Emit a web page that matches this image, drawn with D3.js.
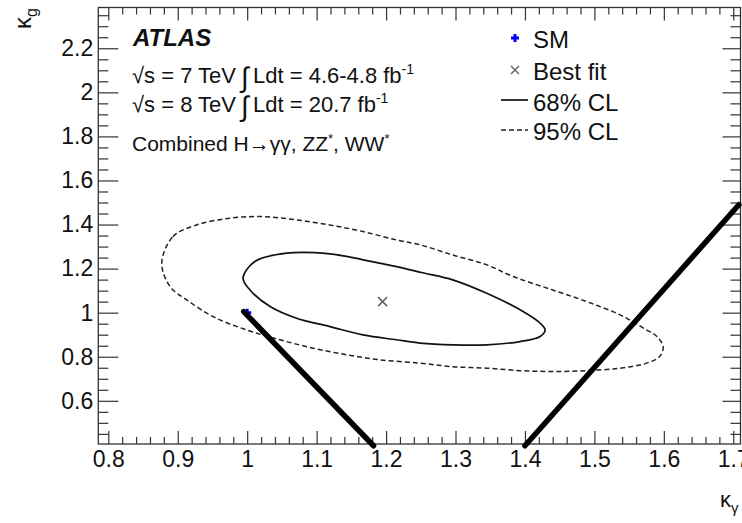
<!DOCTYPE html>
<meta charset="utf-8">
<head>
  <title>kappa_gamma vs kappa_g</title>
</head>
<style>
  html, body {
    margin: 0;
    padding: 0;
    background: #fff;
    overflow: hidden;
  }
  svg text {
    font-family: "Liberation Sans", Arial, Helvetica, sans-serif;
    fill: #111;
  }
</style>
<body>
<script src="https://d3js.org/d3.v7.min.js"></script>
<script>
// tick labels
var xMajor = [0.8, 0.9, 1.0, 1.1, 1.2, 1.3, 1.4, 1.5, 1.6, 1.7];
var yMajor = [0.6, 0.8, 1.0, 1.2, 1.4, 1.6, 1.8, 2.0, 2.2];

// 68% CL contour (kappa_gamma, kappa_g)
var cl68Kgamma = [0.994, 1.011, 1.057, 1.119, 1.167, 1.215, 1.253, 1.296, 1.345, 1.393, 1.422, 1.429,
                  1.422, 1.393, 1.345, 1.296, 1.249, 1.215, 1.167, 1.119, 1.071, 1.033, 1.004];
var cl68Kg     = [1.157, 1.232, 1.270, 1.267, 1.240, 1.209, 1.181, 1.149, 1.088, 1.013, 0.952, 0.922,
                  0.892, 0.869, 0.854, 0.854, 0.862, 0.877, 0.899, 0.937, 0.975, 1.028, 1.103];

// 95% CL contour
var cl95Kgamma = [0.877, 0.893, 0.927, 0.975, 1.023, 1.071, 1.119, 1.167, 1.215, 1.249, 1.296, 1.345,
                  1.383, 1.440, 1.489, 1.537, 1.575, 1.590, 1.599, 1.594, 1.575, 1.537, 1.489, 1.440,
                  1.393, 1.345, 1.296, 1.249, 1.191, 1.143, 1.095, 1.047, 0.999, 0.951, 0.913, 0.889];
var cl95Kg     = [1.225, 1.345, 1.398, 1.429, 1.436, 1.421, 1.398, 1.368, 1.330, 1.308, 1.262, 1.217,
                  1.164, 1.103, 1.050, 0.990, 0.922, 0.892, 0.846, 0.801, 0.771, 0.748, 0.737, 0.733,
                  0.737, 0.748, 0.755, 0.771, 0.786, 0.809, 0.839, 0.877, 0.922, 0.982, 1.058, 1.118];

var smPoint = [1.0, 1.0];
var bestFit = [1.195, 1.05];

// the two thick straight lines
var lineLeftKgamma  = [0.995, 1.182];
var lineLeftKg      = [1.005, 0.396];
var lineRightKgamma = [1.400, 1.708];
var lineRightKg     = [0.396, 1.490];

var W = 742, H = 523;
var svg = d3.select('body').append('svg')
  .attr('width', W).attr('height', H);

var x = d3.scaleLinear().domain([0.7856, 1.7104]).range([98.3, 740.5]);
var y = d3.scaleLinear().domain([0.404, 2.385]).range([444, 7.5]);

function fmt(d) { return String(+d.toFixed(1)); }

var xMinor = d3.range(0.80, 1.711, 0.02).filter(function(v) {
  return Math.abs(v * 10 - Math.round(v * 10)) > 0.01;
});
var yMinor = d3.range(0.45, 2.38, 0.05).filter(function(v) {
  return Math.abs(v * 5 - Math.round(v * 5)) > 0.01;
});

function styleAxis(g, size) {
  g.select('.domain').remove();
  g.attr('font-size', size || 23)
   .attr('font-family', '"Liberation Sans", Arial, Helvetica, sans-serif')
   .style('color', '#222');
  g.selectAll('line').attr('stroke', '#333').attr('stroke-width', 1.2);
}

// bottom axis
svg.append('g').attr('transform', 'translate(0,444)')
  .call(d3.axisBottom(x).tickValues(xMajor).tickSize(-13).tickPadding(7).tickFormat(fmt))
  .call(styleAxis);
svg.append('g').attr('transform', 'translate(0,444)')
  .call(d3.axisBottom(x).tickValues(xMinor).tickSize(-7).tickFormat(''))
  .call(styleAxis);
// top axis
svg.append('g').attr('transform', 'translate(0,7.5)')
  .call(d3.axisTop(x).tickValues(xMajor).tickSize(-13).tickFormat(''))
  .call(styleAxis);
svg.append('g').attr('transform', 'translate(0,7.5)')
  .call(d3.axisTop(x).tickValues(xMinor).tickSize(-7).tickFormat(''))
  .call(styleAxis);
// left axis
svg.append('g').attr('transform', 'translate(98.3,0)')
  .call(d3.axisLeft(y).tickValues(yMajor).tickSize(-20).tickPadding(5).tickFormat(fmt))
  .call(styleAxis);
svg.append('g').attr('transform', 'translate(98.3,0)')
  .call(d3.axisLeft(y).tickValues(yMinor).tickSize(-10).tickFormat(''))
  .call(styleAxis);
// right axis
svg.append('g').attr('transform', 'translate(740.5,0)')
  .call(d3.axisRight(y).tickValues(yMajor).tickSize(-18).tickFormat(''))
  .call(styleAxis);
svg.append('g').attr('transform', 'translate(740.5,0)')
  .call(d3.axisRight(y).tickValues(yMinor).tickSize(-10).tickFormat(''))
  .call(styleAxis);

// frame
svg.append('rect')
  .attr('x', x.range()[0]).attr('y', y.range()[1])
  .attr('width', x.range()[1] - x.range()[0])
  .attr('height', y.range()[0] - y.range()[1])
  .attr('fill', 'none').attr('stroke', '#333').attr('stroke-width', 1.3);

// contours
var contour = d3.line()
  .x(function(d) { return x(d[0]); })
  .y(function(d) { return y(d[1]); })
  .curve(d3.curveCatmullRomClosed.alpha(0.5));

svg.append('path')
  .attr('d', contour(d3.zip(cl95Kgamma, cl95Kg)))
  .attr('fill', 'none').attr('stroke', '#222').attr('stroke-width', 1.5)
  .attr('stroke-dasharray', '5,3');
svg.append('path')
  .attr('d', contour(d3.zip(cl68Kgamma, cl68Kg)))
  .attr('fill', 'none').attr('stroke', '#111').attr('stroke-width', 1.7);

// markers
function plus(g, cx, cy, r, color, w) {
  g.append('path')
    .attr('d', 'M' + (cx - r) + ',' + cy + 'H' + (cx + r) + 'M' + cx + ',' + (cy - r) + 'V' + (cy + r))
    .attr('stroke', color).attr('stroke-width', w);
}
function cross(g, cx, cy, r, color, w) {
  g.append('path')
    .attr('d', 'M' + (cx - r) + ',' + (cy - r) + 'L' + (cx + r) + ',' + (cy + r) +
               'M' + (cx - r) + ',' + (cy + r) + 'L' + (cx + r) + ',' + (cy - r))
    .attr('stroke', color).attr('stroke-width', w);
}

plus(svg, x(smPoint[0]), y(smPoint[1]), 4, '#0000ff', 3);
cross(svg, x(bestFit[0]), y(bestFit[1]), 4.5, '#666', 1.6);

// thick lines
var straight = d3.line()
  .x(function(d) { return x(d[0]); })
  .y(function(d) { return y(d[1]); });
[[lineLeftKgamma, lineLeftKg], [lineRightKgamma, lineRightKg]].forEach(function(l) {
  svg.append('path')
    .attr('d', straight(d3.zip(l[0], l[1])))
    .attr('fill', 'none').attr('stroke', '#000').attr('stroke-width', 5.5)
    .attr('stroke-linecap', 'round');
});

// axis titles
var tx = svg.append('text')
  .attr('x', 720).attr('y', 507).attr('font-size', 22);
tx.append('tspan').text('κ');
tx.append('tspan').attr('dy', 6).attr('font-size', 15).text('γ');

var ty = svg.append('text')
  .attr('transform', 'translate(31,8) rotate(-90)')
  .attr('text-anchor', 'end').attr('font-size', 24);
ty.append('tspan').text('κ');
ty.append('tspan').attr('dy', 6).attr('font-size', 16).text('g');

// ATLAS label
svg.append('text')
  .attr('x', 133).attr('y', 46)
  .attr('font-size', 24).attr('font-weight', 'bold').attr('font-style', 'italic')
  .text('ATLAS');

function lumiLine(yy, energy, lumi) {
  svg.append('text').attr('x', 132).attr('y', yy).attr('font-size', 22)
    .text('√s = ' + energy + ' TeV');
  svg.append('text').attr('x', 241).attr('y', yy + 4).attr('font-size', 28)
    .attr('font-weight', 300).text('∫');
  var t = svg.append('text').attr('x', 253).attr('y', yy).attr('font-size', 22);
  t.append('tspan').text('Ldt = ' + lumi + ' fb');
  t.append('tspan').attr('dy', -9).attr('font-size', 14).text('-1');
}
lumiLine(83, '7', '4.6-4.8');
lumiLine(112, '8', '20.7');

var comb = svg.append('text').attr('x', 132).attr('y', 151).attr('font-size', 21);
comb.append('tspan').text('Combined H→γγ, ZZ');
comb.append('tspan').attr('dy', -8).attr('font-size', 13).text('*');
comb.append('tspan').attr('dy', 8).text(', WW');
comb.append('tspan').attr('dy', -8).attr('font-size', 13).text('*');

// legend
var legX = 533;
plus(svg, 515, 38, 4, '#0000ff', 3);
svg.append('text').attr('x', legX).attr('y', 48).attr('font-size', 24).text('SM');
cross(svg, 515, 70, 4, '#666', 1.5);
svg.append('text').attr('x', legX).attr('y', 80).attr('font-size', 24).text('Best fit');
svg.append('line').attr('x1', 501).attr('x2', 528).attr('y1', 100).attr('y2', 100)
  .attr('stroke', '#111').attr('stroke-width', 1.7);
svg.append('text').attr('x', legX).attr('y', 111).attr('font-size', 24).text('68% CL');
svg.append('line').attr('x1', 501).attr('x2', 528).attr('y1', 130).attr('y2', 130)
  .attr('stroke', '#222').attr('stroke-width', 1.5).attr('stroke-dasharray', '5,3');
svg.append('text').attr('x', legX).attr('y', 140).attr('font-size', 24).text('95% CL');
</script>
</body>
